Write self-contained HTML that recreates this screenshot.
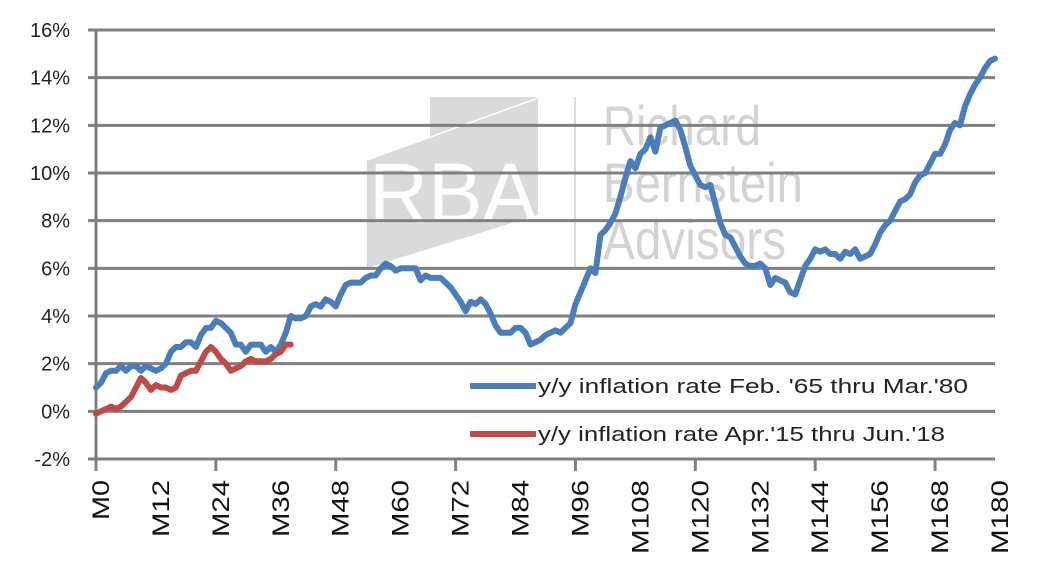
<!DOCTYPE html>
<html><head><meta charset="utf-8"><style>
html,body{margin:0;padding:0;background:#fff;}
svg{display:block;font-family:"Liberation Sans",sans-serif;}
</style></head><body>
<svg id="chart" width="1054" height="566">
  <g>
    <polygon points="430,97 538,97 538,215 367,268 367,160 430,137" fill="#d9dadb"/>
    <line x1="367" y1="160" x2="538" y2="98" stroke="#fff" stroke-width="1.5"/>
    <text x="369" y="222" font-size="84" fill="#fff" textLength="168" lengthAdjust="spacingAndGlyphs" style="font-weight:100">RBA</text>
    <line x1="575" y1="97" x2="575" y2="270" stroke="#dcdcdc" stroke-width="2"/>
    <text font-size="56" fill="#d3d3d3">
      <tspan x="603" y="145" textLength="158" lengthAdjust="spacingAndGlyphs">Richard</tspan><tspan x="603" y="202" textLength="200" lengthAdjust="spacingAndGlyphs">Bernstein</tspan><tspan x="603" y="259" textLength="183" lengthAdjust="spacingAndGlyphs">Advisors</tspan>
    </text>
  </g>
  <g id="grid"></g>
  <g id="axes"></g>
  <g id="series"></g>
  <g>
    <line x1="470" y1="386" x2="536" y2="386" stroke="#4a7ebb" stroke-width="6"/>
    <text x="538" y="393" font-size="20" fill="#222" textLength="430" lengthAdjust="spacingAndGlyphs">y/y inflation rate  Feb. '65 thru Mar.'80</text>
    <line x1="470" y1="434" x2="536" y2="434" stroke="#be4b48" stroke-width="6"/>
    <text x="538" y="441" font-size="20" fill="#222" textLength="407" lengthAdjust="spacingAndGlyphs">y/y inflation rate Apr.'15 thru Jun.'18</text>
  </g>
</svg>
<script>
const yTicks = [-2,0,2,4,6,8,10,12,14,16];
const xTicks = [0,12,24,36,48,60,72,84,96,108,120,132,144,156,168,180];
const blueValues = [1.0,1.2,1.6,1.7,1.7,1.9,1.7,1.9,1.9,1.7,1.9,1.8,1.7,1.8,2.0,2.5,2.7,2.7,2.9,2.9,2.7,3.2,3.5,3.5,3.8,3.7,3.5,3.3,2.8,2.8,2.5,2.8,2.8,2.8,2.5,2.7,2.5,2.8,3.3,4.0,3.9,3.9,4.0,4.4,4.5,4.4,4.7,4.6,4.4,4.9,5.3,5.4,5.4,5.4,5.6,5.7,5.7,6.0,6.2,6.1,5.9,6.0,6.0,6.0,6.0,5.5,5.7,5.6,5.6,5.6,5.4,5.2,4.9,4.6,4.2,4.6,4.5,4.7,4.5,4.1,3.6,3.3,3.3,3.3,3.5,3.5,3.3,2.8,2.9,3.0,3.2,3.3,3.4,3.3,3.5,3.7,4.5,5.0,5.5,6.0,5.8,7.4,7.6,7.9,8.3,9.0,9.8,10.5,10.2,10.8,11.0,11.5,10.9,11.9,12.0,12.1,12.2,11.8,11.1,10.3,9.9,9.5,9.4,9.5,8.7,7.9,7.4,7.3,6.9,6.5,6.2,6.1,6.1,6.2,6.0,5.3,5.6,5.5,5.4,5.0,4.9,5.5,6.1,6.4,6.8,6.7,6.8,6.6,6.6,6.4,6.7,6.6,6.8,6.4,6.5,6.6,7.0,7.5,7.8,8.0,8.4,8.8,8.9,9.1,9.6,9.9,10.0,10.4,10.8,10.8,11.2,11.8,12.1,12.0,12.8,13.3,13.7,14.0,14.4,14.7,14.8];
const redValues = [-0.1,0.0,0.1,0.2,0.1,0.2,0.4,0.6,1.0,1.4,1.2,0.9,1.1,1.0,1.0,0.9,1.0,1.5,1.6,1.7,1.7,2.1,2.5,2.7,2.5,2.2,2.0,1.7,1.8,1.9,2.1,2.2,2.1,2.1,2.1,2.2,2.4,2.5,2.8,2.8];

const NS='http://www.w3.org/2000/svg';
const X0=96,X1=995,YTOP=30,YBOT=459;
function xs(m){return X0+(X1-X0)*m/180;}
function ys(v){return YBOT-(v+2)/18*(YBOT-YTOP);}
function mk(tag,attrs,parent){const e=document.createElementNS(NS,tag);for(const k in attrs)e.setAttribute(k,attrs[k]);parent.appendChild(e);return e;}
const grid=document.getElementById('grid'),axes=document.getElementById('axes'),series=document.getElementById('series');
yTicks.forEach(v=>{
  const y=ys(v);
  const gl=mk('line',{x1:X0-8,y1:y,x2:X1,y2:y,stroke:'#808080','stroke-width':3},grid);
  
  
  const t=mk('text',{x:70,y:y+7,'font-size':20,'text-anchor':'end',fill:'#222'},axes);
  t.textContent=v+'%';
  
  
});
const ya=mk('line',{x1:X0,y1:YTOP,x2:X0,y2:YBOT+12,stroke:'#808080','stroke-width':3},axes);


xTicks.forEach((m,i)=>{
  const x=xs(m);
  if(i%2===0){
    const tk=mk('line',{x1:x,y1:YBOT,x2:x,y2:YBOT+12,stroke:'#808080','stroke-width':3},axes);
    
    
  }
  const label='M'+m;
  const len=23+17*(label.length-1);
  const t=mk('text',{x:0,y:0,'font-size':24,'text-anchor':'end',fill:'#111',textLength:len,lengthAdjust:'spacingAndGlyphs',transform:'translate('+(x+13)+','+(YBOT+21)+') rotate(-90)'},axes);
  t.textContent=label;
  
  
});
function line(vals,color,name){
  const d=vals.map((v,i)=>(i?'L':'M')+xs(i).toFixed(1)+','+ys(v).toFixed(1)).join('');
  const p=mk('path',{d:d,fill:'none',stroke:color,'stroke-width':6,'stroke-linejoin':'round','stroke-linecap':'round'},series);
  
  
}
line(blueValues,'#4a7ebb','series-1965-1980');
line(redValues,'#be4b48','series-2015-2018');
</script>
</body></html>
